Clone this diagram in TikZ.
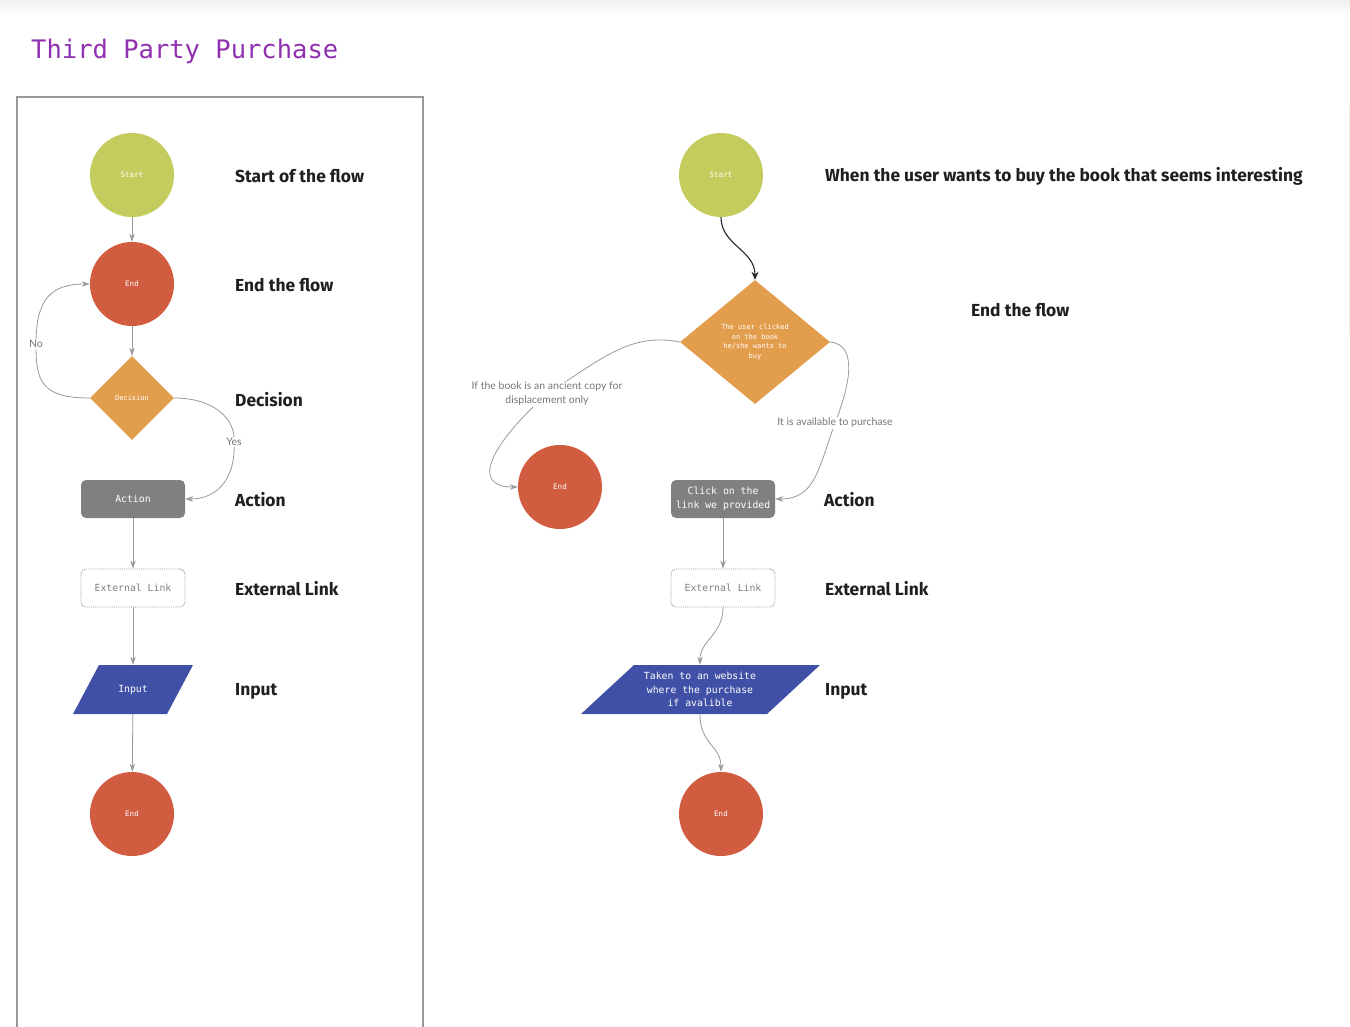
\documentclass[tikz,border=0pt]{standalone}
\usepackage{fontspec}
\setmainfont{Fira Sans}
\setmonofont{DejaVu Sans Mono}
\newfontfamily\lblfont{Lato}
\usetikzlibrary{arrows.meta,shapes.geometric}
\definecolor{cStart}{HTML}{C5CC5E}
\definecolor{cEnd}{HTML}{D15C3F}
\definecolor{cDec}{HTML}{E39E4D}
\definecolor{cAct}{HTML}{808080}
\definecolor{cIn}{HTML}{4050A6}
\definecolor{cTitle}{HTML}{9030B0}
\definecolor{cLine}{HTML}{999999}
\definecolor{cLbl}{HTML}{777777}
\begin{document}
\begin{tikzpicture}[x=1pt,y=-1pt,
  startnode/.style={circle,fill=cStart,minimum size=84pt,inner sep=0pt,text=white,font=\ttfamily\fontsize{7.5}{8}\selectfont},
  endnode/.style={circle,fill=cEnd,minimum size=84pt,inner sep=0pt,text=white,font=\ttfamily\fontsize{7.5}{8}\selectfont},
  decnode/.style={diamond,fill=cDec,inner sep=0pt,text=white,align=center,font=\ttfamily\fontsize{7}{9.5}\selectfont},
  actnode/.style={rectangle,rounded corners=5pt,fill=cAct,minimum width=104pt,minimum height=38pt,inner sep=0pt,text=white,align=center,font=\ttfamily\fontsize{9.8}{14}\selectfont},
  extnode/.style={rectangle,rounded corners=5pt,draw=cLine,densely dotted,line width=0.9pt,minimum width=104pt,minimum height=38pt,inner sep=0pt,text=cAct,font=\ttfamily\fontsize{9.8}{10}\selectfont},
  innode/.style={rectangle,minimum height=49pt,inner sep=0pt,text=white,align=center,font=\ttfamily\fontsize{9.8}{13.5}\selectfont},
  desc/.style={anchor=west,inner sep=0pt,font=\bfseries\fontsize{17.4}{19}\selectfont,text=black!88},
  flow/.style={draw=cLine,line width=0.8pt,-{Stealth[length=8pt,width=5.5pt]}},
  elbl/.style={fill=white,inner sep=1pt,text=cLbl,align=center,font=\lblfont\fontsize{10.5}{14}\selectfont}
]
\useasboundingbox (0,0) rectangle (1350,1026);
\fill[white] (0,0) rectangle (1350,1026);
\shade[top color=black!6,bottom color=white] (0,0) rectangle (1350,14);
\draw[black!6,line width=1pt] (1349,105) -- (1349,335);

% title and frame
\node[anchor=base west,inner sep=0pt,text=cTitle,font=\ttfamily\fontsize{25.5}{27}\selectfont] (title) at (31,58) {Third Party Purchase};
\draw[cLine,line width=1.2pt] (17,1030) -- (17,97) -- (423,97) -- (423,1030);

% ---------- left legend ----------
\node[startnode] (ls) at (132,175) {Start};
\node[endnode] (le) at (132,284) {End};
\node[decnode,minimum width=84pt,minimum height=84pt] (ld) at (132,398) {Decision};
\node[actnode] (la) at (133,499) {Action};
\node[extnode] (lx) at (133,588) {External Link};
\fill[cIn] (99,665) -- (193,665) -- (167,714) -- (73,714) -- cycle;
\node[innode,minimum width=94pt] (li) at (133,689.5) {Input};
\node[endnode] (lend) at (132,814) {End};

\draw[flow] (ls) -- (le);
\draw[flow] (le) -- (ld);
\draw[flow] (ld.west) .. controls (40,398) and (36,380) .. (36,344) node[elbl] {No} .. controls (36,300) and (50,284) .. (le.west);
\draw[flow] (ld.east) .. controls (215,398) and (236,420) .. (234,442) node[elbl] {Yes} .. controls (236,475) and (220,499) .. (la.east);
\draw[flow] (la) -- (lx);
\draw[flow] (lx) -- (li);
\draw[flow] (li) -- (lend);

\node[desc] (t1) at (235,176) {Start of the flow};
\node[desc] (t2) at (235,285) {End the flow};
\node[desc] (t3) at (235,400) {Decision};
\node[desc] (t4) at (235,500) {Action};
\node[desc] (t5) at (235,589) {External Link};
\node[desc] (t6) at (235,691) {Input};

% ---------- right flow ----------
\node[startnode] (rs) at (721,175) {Start};
\node[decnode,minimum width=150pt,minimum height=124pt] (rd) at (755,342) {The user clicked\\on the book\\he/she wants to\\buy};
\node[endnode] (re1) at (560,487) {End};
\node[actnode] (ra) at (723,499) {Click on the\\link we provided};
\node[extnode] (rx) at (723,588) {External Link};
\fill[cIn] (634,665) -- (820,665) -- (767,714) -- (581,714) -- cycle;
\node[innode,minimum width=110pt] (ri) at (700,689.5) {Taken to an website\\where the purchase\\if avalible};
\node[endnode] (re2) at (721,814) {End};

\draw[black!85,line width=1.1pt,-{Stealth[length=8pt,width=7pt]}] (rs.south) .. controls (721,245) and (755,250) .. (rd.north);
\draw[flow] (rd.west) .. controls (630,332) and (600,360) .. (547,394) node[elbl] {If the book is an ancient copy for\\displacement only} .. controls (490,445) and (470,487) .. (re1.west);
\draw[flow] (rd.east) .. controls (860,345) and (848,390) .. (835,423) node[elbl] {It is available to purchase} .. controls (818,470) and (815,499) .. (ra.east);
\draw[flow] (ra) -- (rx);
\draw[flow] (rx.south) .. controls (723,635) and (700,640) .. (ri.north);
\draw[flow] (ri.south) .. controls (700,745) and (721,745) .. (re2.north);

\node[desc] (u1) at (825,176) {When the user wants to buy the book that seems interesting};
\node[desc] (u2) at (971,310) {End the flow};
\node[desc] (u3) at (824,500) {Action};
\node[desc] (u4) at (825,589) {External Link};
\node[desc] (u5) at (825,691) {Input};
\end{tikzpicture}
\end{document}
